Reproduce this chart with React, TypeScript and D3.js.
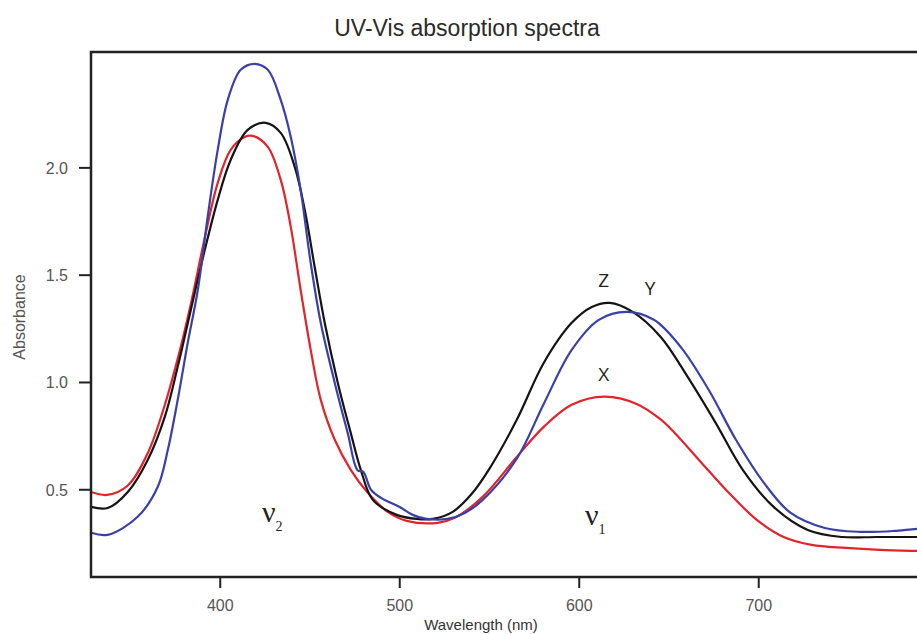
import React from "react";
import * as d3 from "d3";

// wavelength (nm), absorbance pairs
const seriesXWavelength = [328, 337, 348.5, 359.6, 369.1, 376.3, 383.6, 391.4, 398.6, 405.8, 413.6, 418.1, 426.5, 433.7, 439.3, 444.8, 450.4, 456, 463.8, 472.7, 482.2, 493.3, 503.9, 521.2, 530.6, 546.2, 565.2, 580.2, 595.8, 614, 632, 645, 653.2, 668.2, 683.3, 698.9, 713.9, 729.5, 748.5, 767.4, 788, 800];
const seriesXAbsorbance = [0.49, 0.476, 0.52, 0.67, 0.895, 1.11, 1.365, 1.675, 1.93, 2.084, 2.144, 2.149, 2.098, 1.944, 1.725, 1.431, 1.152, 0.919, 0.733, 0.593, 0.486, 0.397, 0.355, 0.346, 0.369, 0.467, 0.653, 0.793, 0.896, 0.934, 0.9, 0.83, 0.765, 0.625, 0.486, 0.36, 0.28, 0.243, 0.229, 0.22, 0.215, 0.213];

const seriesYWavelength = [328, 337.3, 354, 365.2, 370.8, 376.3, 381.9, 387.5, 393, 398.6, 404.2, 411.4, 419.2, 426.5, 433.7, 439.3, 444.8, 450.4, 456, 463.8, 471, 476.6, 479.6, 484, 490, 500, 507.2, 515, 526.7, 536.2, 546.2, 565.2, 580.2, 595.8, 610.9, 626.4, 641.6, 656.5, 672.1, 687.3, 702.9, 717.8, 736.8, 756.3, 775.2, 788, 800];
const seriesYAbsorbance = [0.3, 0.29, 0.374, 0.514, 0.686, 0.919, 1.185, 1.431, 1.772, 2.084, 2.317, 2.457, 2.485, 2.457, 2.317, 2.144, 1.897, 1.557, 1.278, 0.998, 0.765, 0.59, 0.585, 0.5, 0.46, 0.42, 0.383, 0.364, 0.364, 0.392, 0.453, 0.645, 0.9, 1.152, 1.292, 1.329, 1.292, 1.166, 0.966, 0.733, 0.532, 0.392, 0.322, 0.304, 0.308, 0.318, 0.32];

const seriesZWavelength = [328, 337.3, 348.5, 359.6, 369.1, 376.3, 383.6, 391.4, 398.6, 405.8, 415.3, 425.3, 433.7, 441.5, 447.1, 452.6, 458.2, 465.5, 472.7, 478.3, 485, 498.3, 509.5, 518.4, 529.5, 540, 550.1, 565.2, 580.2, 595.8, 607, 617, 629.8, 645.4, 660.4, 676, 691.1, 708.3, 727.3, 746.2, 765.7, 788, 800];
const seriesZAbsorbance = [0.42, 0.415, 0.49, 0.639, 0.84, 1.073, 1.338, 1.618, 1.851, 2.037, 2.177, 2.21, 2.163, 2.005, 1.804, 1.539, 1.278, 0.998, 0.765, 0.593, 0.453, 0.383, 0.364, 0.364, 0.397, 0.48, 0.6, 0.826, 1.091, 1.278, 1.352, 1.371, 1.329, 1.212, 1.026, 0.812, 0.593, 0.42, 0.313, 0.28, 0.28, 0.28, 0.28];

const xTicks = [400, 500, 600, 700];
const yTicks = [0.5, 1.0, 1.5, 2.0];

const titleText = "UV-Vis absorption spectra";
const xAxisTitle = "Wavelength (nm)";
const yAxisTitle = "Absorbance";

const curveLabels = [
  { text: "Z", wl: 617, a: 1.37 },
  { text: "Y", wl: 635, a: 1.33 },
  { text: "X", wl: 617, a: 0.93 },
];

const W = 917;
const H = 634;
const left = 91;
const top = 52;
const bottom = 577;

export default function App() {
  const x = d3.scaleLinear().domain([328, 800]).range([left, left + (800 - 328) * 1.795]);
  const y = d3.scaleLinear().domain([0.0935, 2.54]).range([bottom, top]);

  const line = d3
    .line<[number, number]>()
    .x((d) => x(d[0]))
    .y((d) => y(d[1]))
    .curve(d3.curveCatmullRom.alpha(0.5));

  const zip = (a: number[], b: number[]) => a.map((v, i) => [v, b[i]] as [number, number]);

  const series = [
    { name: "X", color: "#e3232c", d: zip(seriesXWavelength, seriesXAbsorbance) },
    { name: "Z", color: "#141414", d: zip(seriesZWavelength, seriesZAbsorbance) },
    { name: "Y", color: "#3a40a6", d: zip(seriesYWavelength, seriesYAbsorbance) },
  ];

  const labelFont = "'Liberation Sans Narrow', 'Liberation Sans', Arial, sans-serif";
  const tickFont = "'Liberation Sans', Arial, sans-serif";

  return (
    <svg
      width={W}
      height={H}
      style={{ position: "absolute", left: 0, top: 0, background: "#fff" }}
    >
      <defs>
        <clipPath id="plotClip">
          <rect x={left} y={top} width={W - left} height={bottom - top} />
        </clipPath>
      </defs>
      <text x={467} y={36} textAnchor="middle" fontFamily={labelFont} fontSize={23} fill="#2a2a2a">
        {titleText}
      </text>

      <g clipPath="url(#plotClip)">
        {series.map((s) => (
          <path key={s.name} d={line(s.d) || ""} fill="none" stroke={s.color} strokeWidth={2.2} />
        ))}
      </g>

      {/* frame */}
      <path
        d={`M${W + 5},${top} H${left} V${bottom} H${W + 5}`}
        fill="none"
        stroke="#222"
        strokeWidth={2.5}
      />

      {xTicks.map((t) => (
        <g key={t}>
          <line x1={x(t)} x2={x(t)} y1={bottom} y2={bottom + 11} stroke="#222" strokeWidth={2} />
          <text x={x(t)} y={bottom + 34} textAnchor="middle" fontFamily={tickFont} fontSize={16} fill="#555">
            {t}
          </text>
        </g>
      ))}
      {yTicks.map((t) => (
        <g key={t}>
          <line x1={left - 12} x2={left} y1={y(t)} y2={y(t)} stroke="#222" strokeWidth={2} />
          <text x={68} y={y(t) + 6} textAnchor="end" fontFamily={tickFont} fontSize={16} fill="#555">
            {t.toFixed(1)}
          </text>
        </g>
      ))}

      <text x={481} y={630} textAnchor="middle" fontFamily={labelFont} fontSize={15} fill="#333">
        {xAxisTitle}
      </text>
      <text
        transform="translate(25,317) rotate(-90)"
        textAnchor="middle"
        fontFamily={tickFont}
        fontSize={16}
        fill="#555"
      >
        {yAxisTitle}
      </text>

      {curveLabels.map((l, i) => (
        <text
          key={l.text}
          x={x(l.wl) + (i === 1 ? 8 : -6)}
          y={y(l.a) - (i === 1 ? 17 : 16)}
          textAnchor="middle"
          fontFamily="'Open Sans', 'DejaVu Sans', sans-serif"
          fontSize={19}
          fill="#222"
        >
          {l.text}
        </text>
      ))}

      <text x={262} y={522} fontFamily="'Liberation Serif', serif" fontSize={30} fill="#222">
        ν<tspan fontSize={14} dy={9}>2</tspan>
      </text>
      <text x={585} y={525} fontFamily="'Liberation Serif', serif" fontSize={30} fill="#222">
        ν<tspan fontSize={14} dy={9}>1</tspan>
      </text>
    </svg>
  );
}
